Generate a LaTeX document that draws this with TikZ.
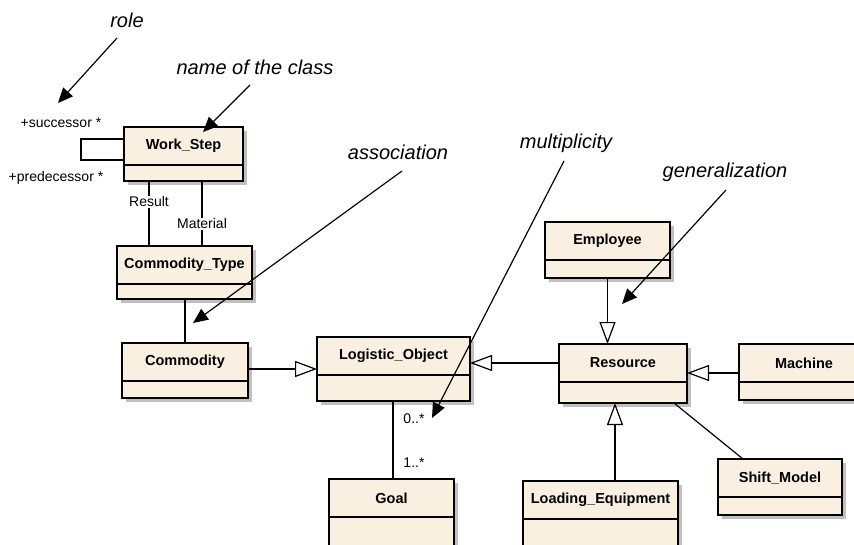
\documentclass[tikz,border=0pt]{standalone}
\usepackage{fontspec}
\setmainfont{Liberation Sans}
\usetikzlibrary{arrows.meta,shadows}
\definecolor{boxfill}{RGB}{250,240,226}
\definecolor{shadowgray}{RGB}{192,192,192}
\tikzset{
 classbox/.style={draw=black, line width=1.2pt, fill=boxfill, inner sep=0pt, outer sep=0pt, anchor=north west,
   drop shadow={shadow xshift=4pt, shadow yshift=-4pt, fill=shadowgray, opacity=1}},
 classname/.style={font=\bfseries\fontsize{14.5}{17}\selectfont, inner sep=0pt},
 divider/.style={draw=black, line width=1.2pt},
 conn/.style={draw=black, line width=1.2pt},
 gen/.style={conn, -{Triangle[length=22pt, width=16pt, fill=white, line width=1.2pt]}},
 lbl/.style={font=\fontsize{14}{16}\selectfont, inner sep=1pt},
 onlinelbl/.style={lbl, fill=white},
 note/.style={font=\itshape\fontsize{20}{24}\selectfont, inner sep=0pt},
 pointer/.style={draw=black, line width=1.2pt, -{Triangle[length=15pt, width=13pt]}},
}
\newcommand{\umlclass}[6]{%
 \node[classbox, minimum width=#4pt, minimum height=#5pt] (#1) at (#2,#3) {};
 \draw[divider] ([yshift=-38pt]#1.north west) -- ([yshift=-38pt]#1.north east);
 \node[classname] (#1-name) at ([yshift=-19pt]#1.north) {#6};
}
\begin{document}
\begin{tikzpicture}[x=1pt,y=-1pt]
\useasboundingbox (0,0) rectangle (854,544);
\clip (0,0) rectangle (854,544);

% classes
\umlclass{ws}{124}{127}{119}{54}{Work\_Step}
\umlclass{ct}{117}{246}{135}{53}{Commodity\_Type}
\umlclass{cm}{122}{343}{126}{55}{Commodity}
\umlclass{lo}{317}{337}{153}{64}{Logistic\_Object}
\umlclass{goal}{329}{479}{125}{75}{Goal}
\umlclass{emp}{545}{222}{125}{56}{Employee}
\umlclass{res}{559}{344}{128}{59}{Resource}
\umlclass{mach}{739}{344}{130}{56}{Machine}
\umlclass{le}{523}{481}{155}{75}{Loading\_Equipment}
\umlclass{sm}{718}{459}{124}{56}{Shift\_Model}

% self association of Work_Step
\draw[conn] ([yshift=-12pt]ws.north west) -- ++(-43,0) |- ([yshift=-33pt]ws.north west);
\node[lbl] (succ) at (61,123) {+successor *};
\node[lbl] (pred) at (56,178) {+predecessor *};

% Work_Step -- Commodity_Type
\draw[conn] ([xshift=25pt]ws.south west) -- ([xshift=25pt]ws.south west |- ct.north)
  node[onlinelbl, pos=0.32] (result) {Result};
\draw[conn] ([xshift=78pt]ws.south west) -- ([xshift=78pt]ws.south west |- ct.north)
  node[onlinelbl, pos=0.66] (material) {Material};

% Commodity_Type -- Commodity
\draw[conn] ([xshift=68pt]ct.south west) -- ([xshift=68pt]ct.south west |- cm.north);

% generalizations
\draw[gen] ([yshift=-26pt]cm.north east) -- ([yshift=-26pt]cm.north east -| lo.west);
\draw[gen] ([yshift=-19pt]res.north west) -- ([yshift=-19pt]res.north west -| lo.east);
\draw[gen] (emp.south) -- (emp.south |- res.north);
\draw[gen] ([yshift=-29pt]mach.north west) -- ([yshift=-29pt]mach.north west -| res.east);
\draw[gen] ([xshift=92pt]le.north west) -- ([xshift=92pt]le.north west |- res.south);

% associations
\draw[conn] ([xshift=115pt]res.south west) -- ([xshift=25pt]sm.north west);
\draw[conn] ([xshift=76pt]lo.south west) -- ([xshift=76pt]lo.south west |- goal.north);
\node[lbl] (m0) at (414,419) {0..*};
\node[lbl] (m1) at (414,463) {1..*};

% annotations
\node[note] (nrole) at (127,20) {role};
\node[note] (nname) at (255,67) {name of the class};
\node[note] (nassoc) at (398,152) {association};
\node[note] (nmult) at (566,143) {multiplicity};
\node[note] (ngen) at (725,172) {generalization};

\coordinate (prole) at (58,103);
\coordinate (pname) at (203,132);
\coordinate (passoc) at (193,323);
\coordinate (pmult) at (432,418);
\coordinate (pgen) at (622,304);

\draw[pointer] (117,38) -- (prole);
\draw[pointer] (250,85) -- (pname);
\draw[pointer] (402,171) -- (passoc);
\draw[pointer] (564,161) -- (pmult);
\draw[pointer] (726,190) -- (pgen);
\end{tikzpicture}
\end{document}
